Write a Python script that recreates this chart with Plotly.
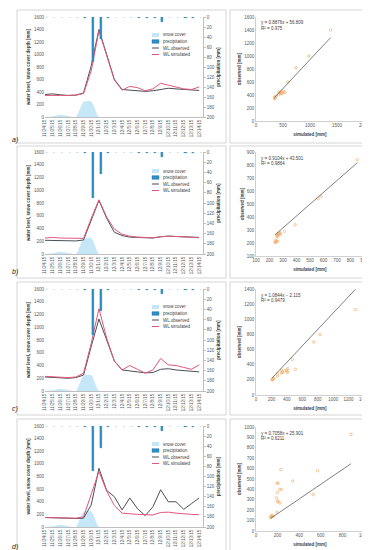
import plotly.graph_objects as go

W, H = 370, 550

dates = ["11/24/15", "11/25/15", "11/26/15", "11/27/15", "11/28/15", "11/29/15", "11/30/15",
         "12/1/15", "12/2/15", "12/3/15", "12/4/15", "12/5/15", "12/6/15", "12/7/15",
         "12/8/15", "12/9/15", "12/10/15", "12/11/15", "12/12/15", "12/13/15", "12/14/15"]
snow_cover = [0, 10, 35, 15, 0, 240, 250, 0, 0, 0, 0, 0, 0, 0, 0, 0, 0, 0, 0, 0, 0]
precipitation = [0, 0, 0, 0, 0, 1, 90, 44, 1, 0, 0, 0, 1, 1, 1, 10, 0, 0, 1, 1, 0]

obs_a = [360, 370, 355, 345, 350, 385, 820, 1400, 1000, 600, 440, 430, 425, 410, 420, 440, 460, 450, 440, 430, 425]
sim_a = [345, 350, 345, 345, 350, 375, 740, 1380, 980, 590, 430, 490, 470, 420, 450, 540, 510, 480, 450, 440, 480]
obs_b = [215, 215, 210, 205, 205, 220, 540, 840, 560, 340, 290, 265, 260, 255, 250, 270, 280, 275, 270, 265, 260]
sim_b = [250, 260, 250, 245, 240, 245, 560, 850, 580, 390, 310, 280, 265, 260, 255, 270, 280, 275, 270, 265, 255]
obs_c = [220, 215, 205, 200, 210, 250, 700, 1130, 800, 470, 330, 310, 300, 285, 290, 340, 350, 330, 320, 300, 300]
sim_c = [230, 220, 210, 210, 220, 280, 750, 1290, 830, 470, 330, 400, 340, 280, 330, 510, 410, 400, 370, 340, 410]
obs_d = [150, 145, 140, 130, 135, 140, 350, 930, 580, 480, 270, 460, 290, 180, 320, 590, 400, 400, 280, 370, 460]
sim_d = [150, 145, 140, 135, 140, 160, 530, 880, 570, 340, 220, 205, 200, 195, 190, 230, 235, 220, 205, 200, 195]

panel_labels = ["a)", "b)", "c)", "d)"]
trend_slope = [0.8876, 0.9104, 1.0844, 0.7058]
trend_intercept = [56.809, 43.501, -2.115, 25.901]
eq_texts = ["y = 0.8876x + 56.809", "y = 0.9104x + 43.501", "y = 1.0844x − 2.115", "y = 0.7058x + 25.901"]
r2_texts = ["R² = 0.975", "R² = 0.9864", "R² = 0.9479", "R² = 0.6211"]
sc_x_ranges = [[0, 2000], [100, 900], [0, 1400], [0, 1000]]
sc_x_dticks = [500, 100, 200, 200]
sc_y_ranges = [[0, 1600], [100, 900], [0, 1400], [0, 1000]]
sc_y_dticks = [200, 100, 200, 100]

obs_list = [obs_a, obs_b, obs_c, obs_d]
sim_list = [sim_a, sim_b, sim_c, sim_d]

# layout geometry (pixels)
ts_px = [(9, 109), (144, 246), (281, 383), (418, 519)]
sc_px = [(9, 113), (144, 248), (281, 387), (419, 523)]
box_px = [(2, 135), (138, 270), (274, 407), (411, 545)]
label_py = [132, 264, 401, 539]
legend_top = [24, 160, 296, 433]

C_OBS = "#4a4f57"
C_SIM = "#e2587a"
C_PRE = "#2f8fc8"
C_SNOW = "rgba(160,215,242,0.6)"
TXT = "#404040"
TICK = "#595959"
FONT = "Liberation Sans"


def fx(p):
    return p / W


def fy(p):
    return 1 - p / H


def ax(k):
    return "" if k == 1 else str(k)


fig = go.Figure()
layout = {}
shapes = []
annotations = []

for i in range(4):
    xt, xs = 2 * i + 1, 2 * i + 2
    yt, yp, ys = 3 * i + 1, 3 * i + 2, 3 * i + 3
    obs, sim = obs_list[i], sim_list[i]

    # snow cover area
    fig.add_trace(go.Scatter(x=dates, y=snow_cover, mode="lines", fill="tozeroy",
                             line=dict(width=0, shape="spline", smoothing=0.6),
                             fillcolor=C_SNOW, showlegend=False,
                             xaxis="x" + ax(xt), yaxis="y" + ax(yt)))
    fig.add_trace(go.Scatter(x=dates, y=obs, mode="lines", line=dict(color=C_OBS, width=1),
                             showlegend=False, xaxis="x" + ax(xt), yaxis="y" + ax(yt)))
    fig.add_trace(go.Scatter(x=dates, y=sim, mode="lines", line=dict(color=C_SIM, width=1),
                             showlegend=False, xaxis="x" + ax(xt), yaxis="y" + ax(yt)))
    fig.add_trace(go.Bar(x=dates, y=precipitation, width=0.28, offset=0.08,
                         marker=dict(color=C_PRE, line=dict(color="#1c6c9e", width=0.3)),
                         showlegend=False, xaxis="x" + ax(xt), yaxis="y" + ax(yp)))

    # scatter
    fig.add_trace(go.Scatter(x=sim, y=obs, mode="markers",
                             marker=dict(symbol="circle-open", size=2.5, color="#f2b070",
                                         line=dict(width=0.7)),
                             showlegend=False, xaxis="x" + ax(xs), yaxis="y" + ax(ys)))
    xmin, xmax = min(sim), max(sim)
    fig.add_trace(go.Scatter(x=[xmin, xmax],
                             y=[trend_slope[i] * xmin + trend_intercept[i],
                                trend_slope[i] * xmax + trend_intercept[i]],
                             mode="lines", line=dict(color="#606060", width=0.8),
                             showlegend=False, xaxis="x" + ax(xs), yaxis="y" + ax(ys)))

    tfont = dict(family=FONT, size=4.5, color=TICK)
    titfont = dict(family=FONT, size=4.5, color=TXT, weight="bold")

    t0, t1 = ts_px[i]
    s0, s1 = sc_px[i]
    layout["xaxis" + ax(xt)] = dict(domain=[fx(37), fx(195)], anchor="y" + ax(yt), type="category",
                                    categoryorder="array", categoryarray=dates,
                                    range=[0, 20.5], tickangle=-90, tickfont=tfont, dtick=1,
                                    showline=True, linecolor="#bfbfbf", linewidth=0.8,
                                    showgrid=False, zeroline=False, ticks="", automargin=False)
    layout["yaxis" + ax(yt)] = dict(domain=[fy(t1), fy(t0)], anchor="x" + ax(xt), range=[0, 1600],
                                    dtick=200, tickfont=tfont, showgrid=False, zeroline=False,
                                    showline=False, ticks="", automargin=False,
                                    title=dict(text="water level, snow cover depth [mm]",
                                               font=titfont, standoff=3))
    layout["yaxis" + ax(yp)] = dict(overlaying="y" + ax(yt), anchor="x" + ax(xt), side="right",
                                    range=[200, 0], dtick=20, tickfont=tfont, showgrid=False,
                                    zeroline=False, showline=True, linecolor="#bfbfbf",
                                    linewidth=0.8, ticks="outside", ticklen=2, tickcolor="#bfbfbf",
                                    automargin=False,
                                    title=dict(text="precipitation [mm]", font=titfont, standoff=3))
    layout["xaxis" + ax(xs)] = dict(domain=[fx(248), fx(356)], anchor="y" + ax(ys),
                                    range=sc_x_ranges[i], dtick=sc_x_dticks[i], tickfont=tfont,
                                    showgrid=False, zeroline=False, showline=True,
                                    linecolor="#d0d0d0", linewidth=0.8, ticks="", automargin=False,
                                    title=dict(text="simulated [mm]", font=titfont, standoff=5))
    layout["yaxis" + ax(ys)] = dict(domain=[fy(s1), fy(s0)], anchor="x" + ax(xs),
                                    range=sc_y_ranges[i], dtick=sc_y_dticks[i], tickfont=tfont,
                                    showgrid=False, zeroline=False, showline=True,
                                    linecolor="#d0d0d0", linewidth=0.8, ticks="", automargin=False,
                                    title=dict(text="observed [mm]", font=titfont, standoff=2))

    # panel boxes
    b0, b1 = box_px[i]
    shapes.append(dict(type="rect", xref="paper", yref="paper", x0=fx(9), x1=fx(218),
                       y0=fy(b1), y1=fy(b0), line=dict(color="#d4d4d4", width=1)))
    shapes.append(dict(type="rect", xref="paper", yref="paper", x0=fx(222), x1=fx(366),
                       y0=fy(b1), y1=fy(b0), line=dict(color="#d4d4d4", width=1)))

    annotations.append(dict(text=panel_labels[i], xref="paper", yref="paper", x=fx(2), y=fy(label_py[i]),
                            xanchor="left", yanchor="middle", showarrow=False,
                            font=dict(family=FONT, size=7, color="#202020", style="italic")))
    # equation
    annotations.append(dict(text=eq_texts[i], xref="paper", yref="paper", x=fx(251), y=fy(s0 + 6),
                            xanchor="left", yanchor="middle", showarrow=False,
                            font=dict(family=FONT, size=4.5, color=TXT)))
    annotations.append(dict(text=r2_texts[i], xref="paper", yref="paper", x=fx(251), y=fy(s0 + 11.5),
                            xanchor="left", yanchor="middle", showarrow=False,
                            font=dict(family=FONT, size=4.5, color=TXT)))

    # custom legend
    lt = legend_top[i]
    names = ["snow cover", "precipitation", "WL observed", "WL simulated"]
    for k, nm in enumerate(names):
        cy = lt + 3 + k * 6.5
        if k == 0:
            shapes.append(dict(type="rect", xref="paper", yref="paper", x0=fx(144), x1=fx(151),
                               y0=fy(cy + 2), y1=fy(cy - 2), fillcolor="#c4e6f7", line=dict(width=0)))
        elif k == 1:
            shapes.append(dict(type="rect", xref="paper", yref="paper", x0=fx(144), x1=fx(151),
                               y0=fy(cy + 1.8), y1=fy(cy - 1.8), fillcolor=C_PRE,
                               line=dict(color="#1c6c9e", width=0.4)))
        else:
            shapes.append(dict(type="line", xref="paper", yref="paper", x0=fx(144), x1=fx(151),
                               y0=fy(cy), y1=fy(cy),
                               line=dict(color=C_OBS if k == 2 else C_SIM, width=1)))
        annotations.append(dict(text=nm, xref="paper", yref="paper", x=fx(152.5), y=fy(cy),
                                xanchor="left", yanchor="middle", showarrow=False,
                                font=dict(family=FONT, size=4.5, color=TXT)))

fig.update_layout(**layout)
fig.update_layout(width=W, height=H, margin=dict(l=0, r=0, t=0, b=0),
                  template="none", paper_bgcolor="white", plot_bgcolor="rgba(0,0,0,0)",
                  shapes=shapes, annotations=annotations, showlegend=False, bargap=0,
                  font=dict(family=FONT, size=4.5, color=TXT))

fig.write_html("out.html")
